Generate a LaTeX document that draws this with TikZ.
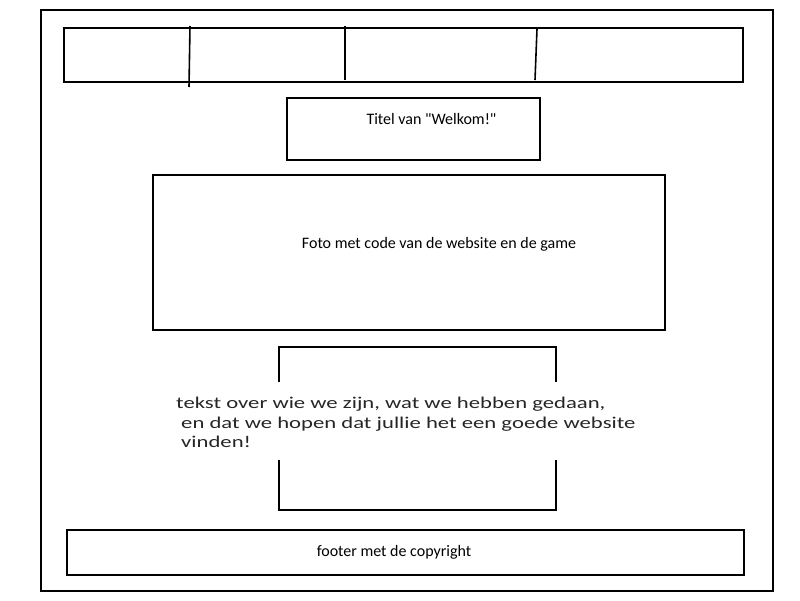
\documentclass[tikz,border=0pt]{standalone}
\usepackage{fontspec}
\setmainfont{Carlito}
\newfontfamily\rawfont{Carlito}
\newcommand{\widetext}[1]{\scalebox{1.375}[1]{\fontsize{16.5}{20}\selectfont #1}}
\begin{document}
\begin{tikzpicture}[x=1pt,y=-1pt,
  box/.style={draw=black,line width=2pt},
  divider/.style={draw=black,line width=1.6pt},
  lbl/.style={font=\fontsize{16}{19}\selectfont,text=black},
  big/.style={text=black!85,inner sep=0pt,anchor=base west}]
\useasboundingbox (0,0) rectangle (800,600);
% outer frame
\draw[box] (41,10) rectangle (773,591);
% navigation bar
\draw[box] (64,28) rectangle (743,82);
\coordinate (d1t) at (190,26); \coordinate (d1b) at (189,87);
\coordinate (d2t) at (345,26); \coordinate (d2b) at (345,80);
\coordinate (d3t) at (537,29); \coordinate (d3b) at (535,80);
\draw[divider] (d1t) -- (d1b);
\draw[divider] (d2t) -- (d2b);
\draw[divider] (d3t) -- (d3b);
% title
\draw[box] (287,98) rectangle (540,160);
\node[lbl,anchor=west] (title) at (363,119) {\rawfont Titel van "Welkom!"};
% photo
\draw[box] (153,175) rectangle (665,330);
\node[lbl] (photo) at (439,244) {Foto met code van de website en de game};
% text block with broken sides
\draw[box] (279,382) -- (279,347) -- (556,347) -- (556,382);
\draw[box] (279,460) -- (279,510) -- (556,510) -- (556,460);
\node[big] (txt1) at (176,408) {\widetext{tekst over wie we zijn, wat we hebben gedaan,}};
\node[big] (txt2) at (181,428) {\widetext{en dat we hopen dat jullie het een goede website}};
\node[big] (txt3) at (181,447) {\widetext{vinden!}};
% footer
\draw[box] (67,530) rectangle (744,575);
\node[lbl] (footer) at (394,552) {footer met de copyright};
\end{tikzpicture}
\end{document}
